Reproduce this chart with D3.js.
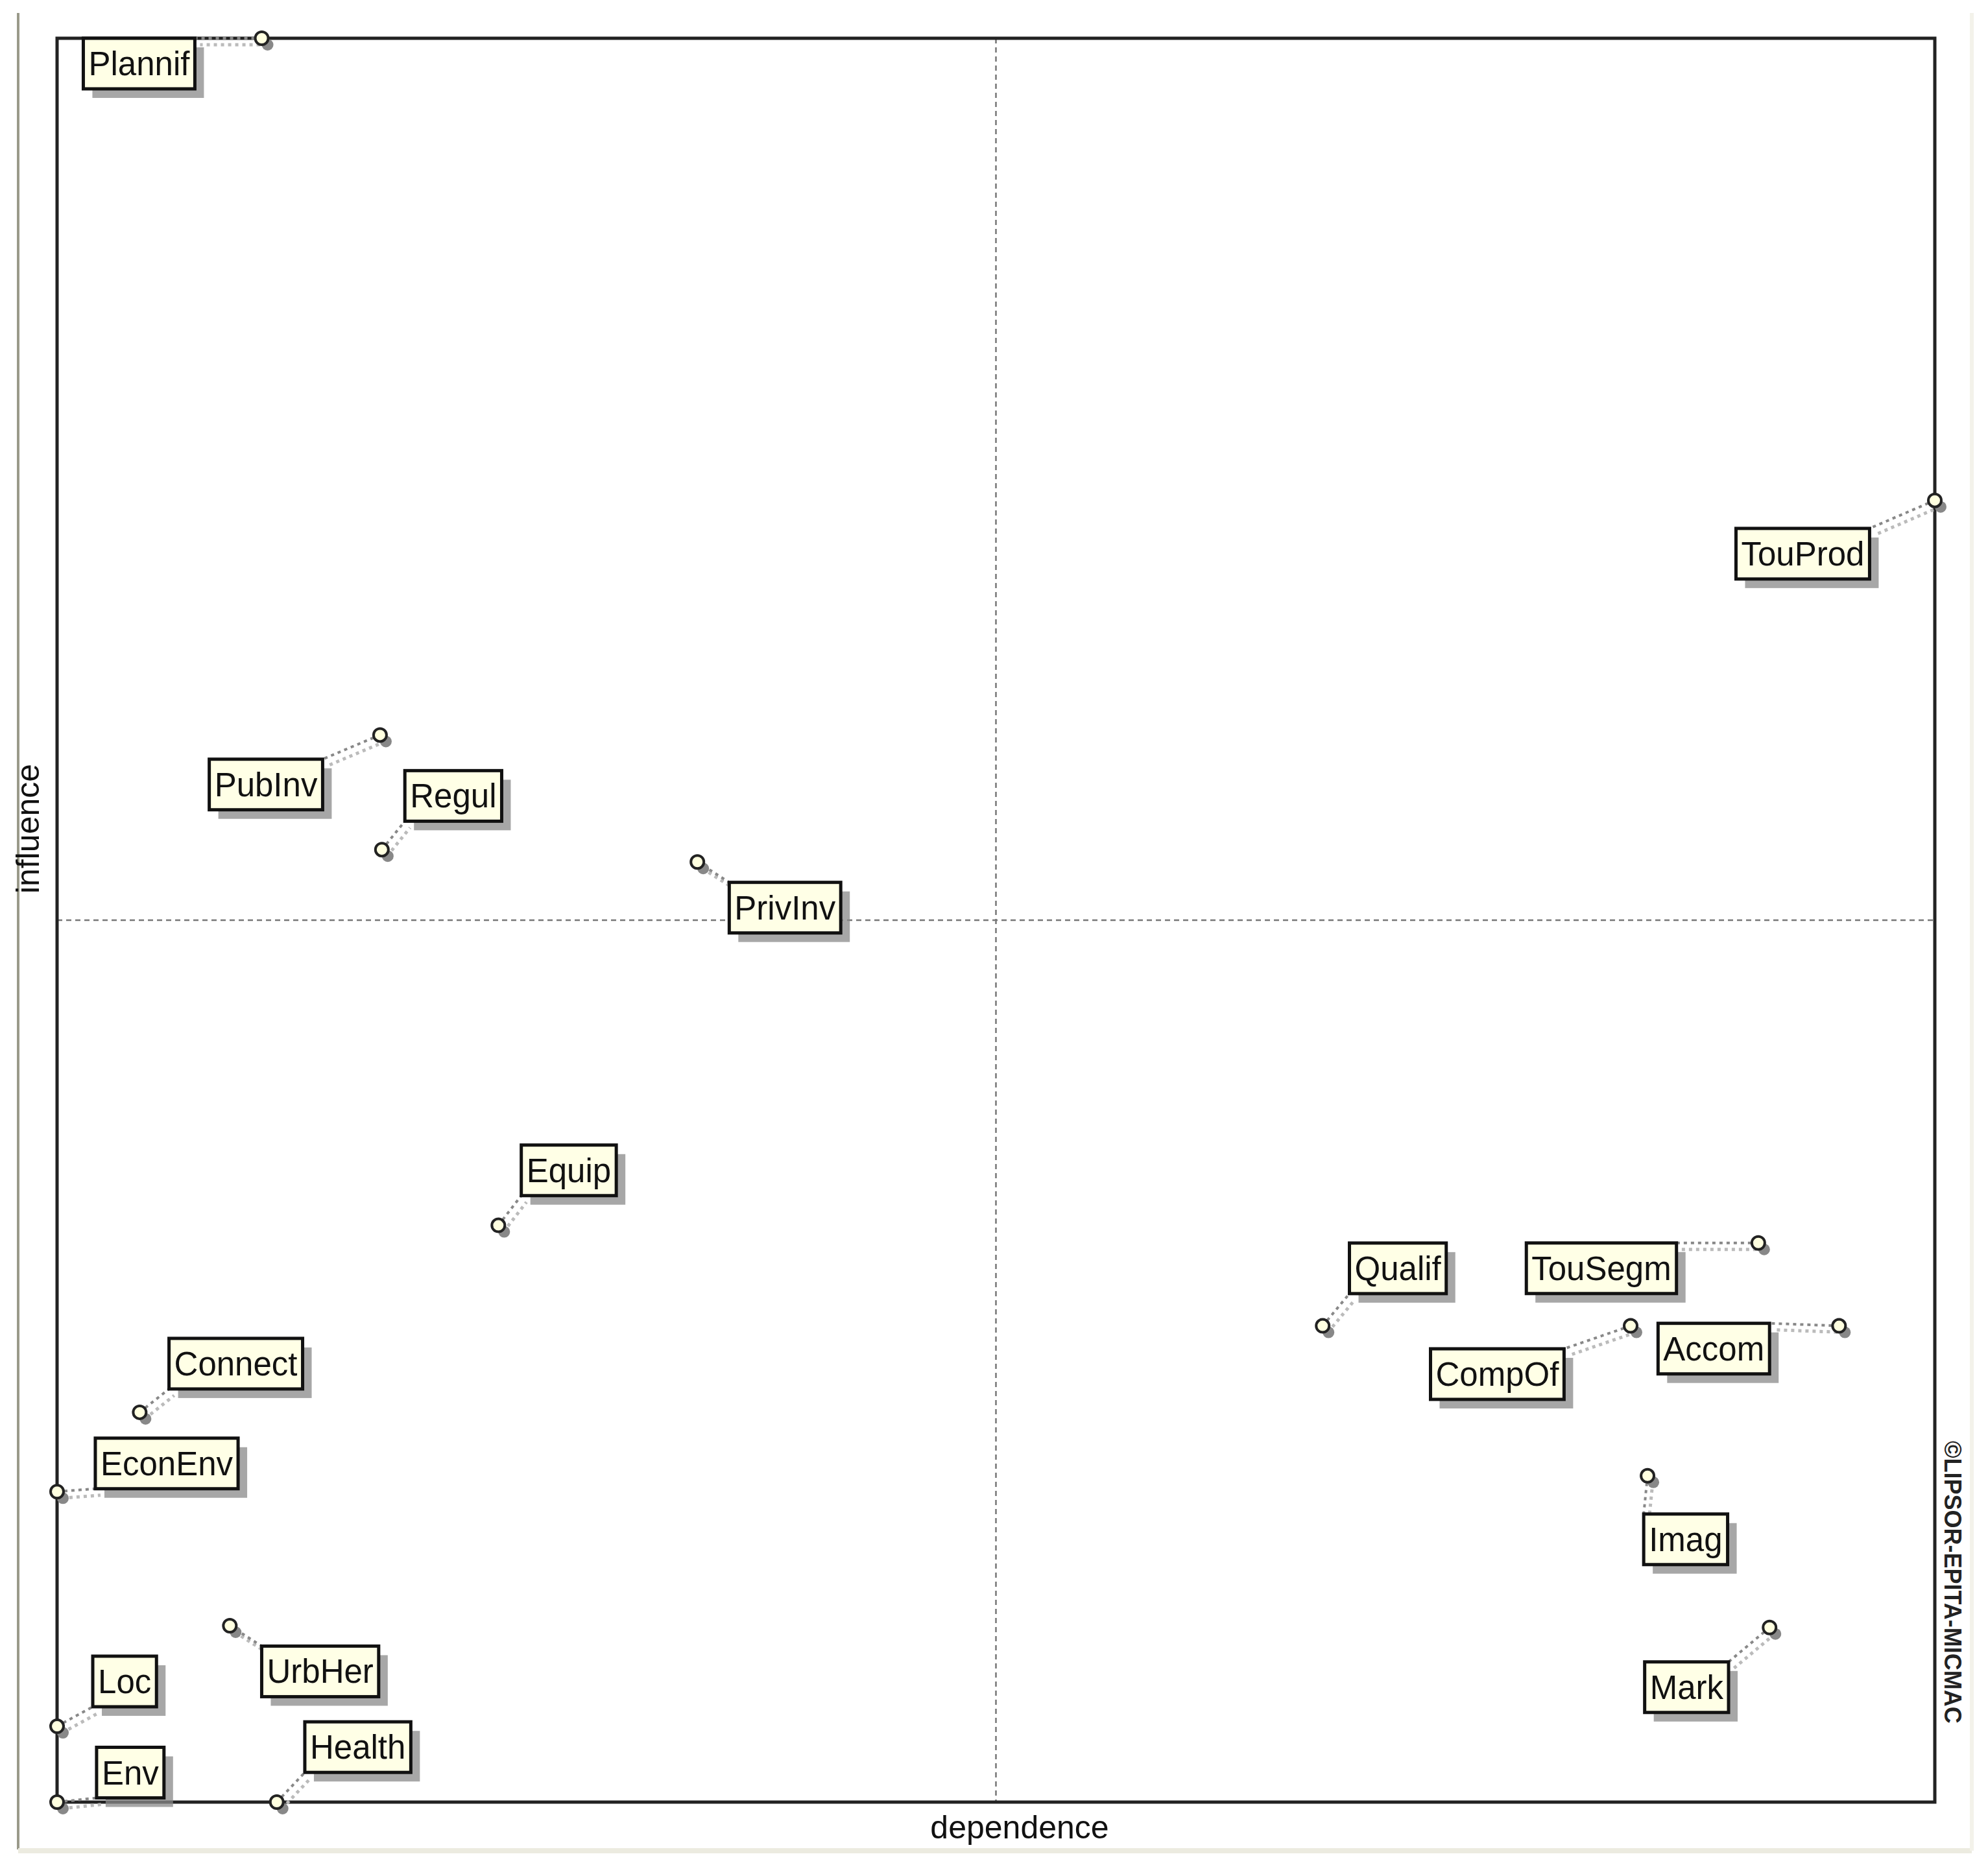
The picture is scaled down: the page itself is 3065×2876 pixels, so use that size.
<!DOCTYPE html>
<html><head><meta charset="utf-8">
<script src="https://cdn.jsdelivr.net/npm/d3@7"></script>
<style>body{margin:0;background:#fff}</style>
</head><body>
<script>
// Data (dependence, influence) on a 0-100 scale
const names = ["Plannif","TouProd","PubInv","Regul","PrivInv","Equip","Qualif","TouSegm","Accom","CompOf","Imag","Mark","Connect","EconEnv","UrbHer","Loc","Env","Health"];
const dependence = [10.9,100,17.2,17.3,34.1,23.5,67.4,90.6,94.9,83.8,84.7,91.2,4.4,0,9.2,0,0,11.7];
const influence  = [100,73.8,60.5,54.0,53.3,32.7,27.0,31.7,27.0,27.0,18.5,9.9,22.1,17.6,10.0,4.3,0,0];
// label box offset (top-left, relative to point, in reference px units)
const labelDx = [-140,-156,-134,18,25,18,21,-182,-142,-157,-3,-98,23,30,25,28,31,22];
const labelDy = [0,22,19,-62,16,-63,-65,0,-2,18,30,27,-58,-42,16,-55,-43,-63];

const W=3065,H=2876,s=1.965;
const svg=d3.select("body").append("svg").attr("width",W).attr("height",H).style("font-family","Liberation Sans, Arial, sans-serif");
const L=88,R=2983,T=59,B=2779;
const x=d3.scaleLinear().domain([0,100]).range([L,R]);
const y=d3.scaleLinear().domain([0,100]).range([B,T]);

// outer window edges
svg.append("line").attr("x1",28).attr("x2",28).attr("y1",20).attr("y2",2852).attr("stroke","#9a9a8a").attr("stroke-width",4);
svg.append("line").attr("x1",28).attr("x2",3040).attr("y1",2854).attr("y2",2854).attr("stroke","#ecebe0").attr("stroke-width",8);
svg.append("line").attr("x1",3040).attr("x2",3040).attr("y1",20).attr("y2",2854).attr("stroke","#f3f2ea").attr("stroke-width",6);

// mid lines
svg.append("line").attr("x1",x(50)).attr("x2",x(50)).attr("y1",T).attr("y2",B).attr("stroke","#777").attr("stroke-width",2.5).attr("stroke-dasharray","8,6");
svg.append("line").attr("x1",L).attr("x2",R).attr("y1",y(50)).attr("y2",y(50)).attr("stroke","#777").attr("stroke-width",2.5).attr("stroke-dasharray","8,6");
// frame
svg.append("rect").attr("x",L).attr("y",T).attr("width",R-L).attr("height",B-T).attr("fill","none").attr("stroke","#222").attr("stroke-width",5);

// axis titles
svg.append("text").attr("x",1572).attr("y",2835).attr("text-anchor","middle").attr("font-size",50).attr("fill","#111").text("dependence");
svg.append("text").attr("transform","translate(60,1278) rotate(-90)").attr("text-anchor","middle").attr("font-size",50).attr("fill","#111").text("influence");
svg.append("text").attr("transform","translate(2998,2222) rotate(90)").attr("text-anchor","start").attr("font-size",36).attr("font-weight","bold").attr("fill","#222").text("©LIPSOR-EPITA-MICMAC");

const fs=51, bh=78;
const g=svg.append("g");
names.forEach((n,i)=>{
  const px=x(dependence[i]), py=y(influence[i]);
  const bx=px+labelDx[i]*s, by=py+labelDy[i]*s;
  const t=g.append("text").attr("font-size",fs).text(n);
  const tw=t.node().getComputedTextLength();
  const bw=tw+16;
  t.remove();
  // connector target: nearest corner
  const cx = Math.abs(bx-px)<Math.abs(bx+bw-px)?bx:bx+bw;
  const cy = Math.abs(by-py)<Math.abs(by+bh-py)?by:by+bh;
  // connector shadow + line
  g.append("line").attr("x1",px+8).attr("y1",py+10).attr("x2",cx+8).attr("y2",cy+10).attr("stroke","#bbb").attr("stroke-width",5).attr("stroke-dasharray","5,6");
  g.append("line").attr("x1",px).attr("y1",py).attr("x2",cx).attr("y2",cy).attr("stroke","#888").attr("stroke-width",4).attr("stroke-dasharray","5,6");
  // box shadow
  g.append("rect").attr("x",bx+14).attr("y",by+14).attr("width",bw).attr("height",bh).attr("fill","#8a8a8a").attr("opacity",0.75);
  g.append("rect").attr("x",bx).attr("y",by).attr("width",bw).attr("height",bh).attr("fill","#ffffe6").attr("stroke","#111").attr("stroke-width",5);
  g.append("text").attr("x",bx+8).attr("y",by+bh/2+18).attr("font-size",fs).attr("fill","#111").text(n);
  // point
  g.append("circle").attr("cx",px+9).attr("cy",py+10).attr("r",9).attr("fill","#888");
  g.append("circle").attr("cx",px).attr("cy",py).attr("r",10).attr("fill","#ffffe0").attr("stroke","#222").attr("stroke-width",4);
});
</script>
</body></html>
